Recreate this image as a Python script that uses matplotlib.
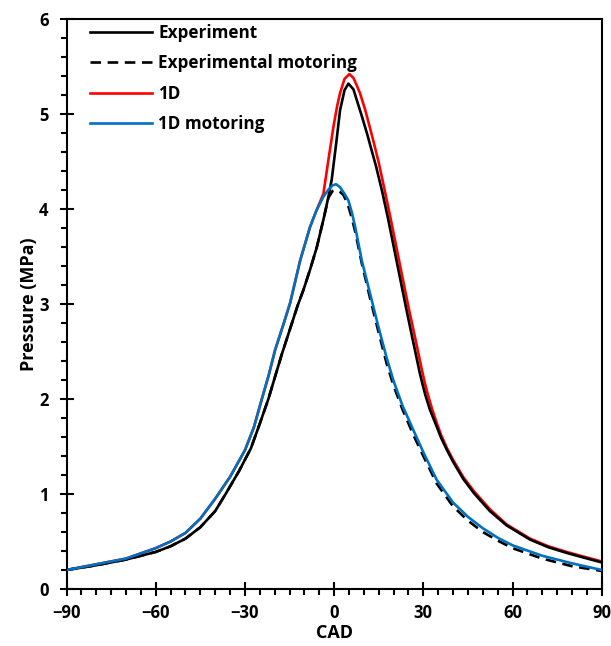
import matplotlib
matplotlib.use("Agg")
import matplotlib.pyplot as plt
from matplotlib.ticker import MultipleLocator

plt.rcParams['font.family'] = ['Open Sans', 'DejaVu Sans']
plt.rcParams['font.weight'] = 'bold'

# 1D motoring (blue)
x_1dm = [-90, -80, -70, -60, -55, -50, -45, -40, -35, -30, -27, -24.3, -22, -19.8, -17, -14.8, -11.4, -8.1, -6, -3.6, -2, -0.5, 0.7, 2, 3.5, 4.8, 6, 7.1, 9.3, 12.1, 14.9, 17.7, 20, 23, 26.7, 30, 34.5, 40, 45, 50, 55, 60, 70, 80, 90]
p_1dm = [0.20, 0.26, 0.32, 0.43, 0.50, 0.59, 0.74, 0.95, 1.18, 1.46, 1.70, 2.00, 2.25, 2.52, 2.79, 3.01, 3.46, 3.81, 3.98, 4.13, 4.20, 4.25, 4.26, 4.23, 4.16, 4.09, 3.96, 3.81, 3.46, 3.11, 2.76, 2.43, 2.19, 1.93, 1.67, 1.44, 1.15, 0.91, 0.76, 0.64, 0.54, 0.46, 0.35, 0.27, 0.20]

# 1D (red)
x_1d = [-90, -80, -70, -60, -55, -50, -45, -40, -35, -30, -27, -24.3, -22, -19.8, -17, -14.8, -11.4, -8.1, -6, -3.6, -1.9, -0.2, 1, 2, 3.5, 5.15, 6.5, 7.5, 8.7, 10.4, 12.1, 13.5, 15, 17, 19, 21, 23, 25, 27, 28.5, 29.5, 30.5, 31.5, 33, 34.5, 36, 38, 40, 43.4, 47, 52.4, 58, 65.9, 72, 78.2, 84, 90]
p_1d = [0.20, 0.26, 0.32, 0.43, 0.50, 0.59, 0.74, 0.95, 1.18, 1.46, 1.70, 2.00, 2.25, 2.52, 2.79, 3.01, 3.46, 3.81, 3.98, 4.16, 4.52, 4.87, 5.08, 5.22, 5.37, 5.42, 5.38, 5.31, 5.22, 5.05, 4.85, 4.68, 4.49, 4.20, 3.90, 3.59, 3.28, 2.97, 2.68, 2.46, 2.31, 2.17, 2.05, 1.89, 1.75, 1.62, 1.48, 1.36, 1.18, 1.03, 0.84, 0.68, 0.53, 0.45, 0.39, 0.34, 0.29]

# Experiment (black solid)
x_exp = [-90, -80, -70, -60, -55, -50, -47.5, -45, -40, -36.3, -32, -28, -25, -22.1, -20, -17.6, -15, -12.3, -10.3, -8, -5.8, -3.5, -1.9, -0.8, 0.7, 2, 3.5, 4.8, 6.5, 7.8, 9.5, 11.2, 12.6, 14.1, 16.2, 18.2, 20.2, 22.2, 24.2, 26.2, 27.7, 28.7, 29.7, 30.7, 32.2, 34.5, 36, 38, 40, 43.4, 47, 52.4, 58, 65.9, 72, 78.2, 84, 90]
p_exp = [0.20, 0.25, 0.31, 0.39, 0.45, 0.53, 0.59, 0.65, 0.82, 1.01, 1.24, 1.48, 1.74, 2.00, 2.22, 2.47, 2.72, 2.98, 3.15, 3.37, 3.60, 3.90, 4.13, 4.31, 4.69, 5.04, 5.25, 5.32, 5.26, 5.13, 4.96, 4.78, 4.62, 4.45, 4.18, 3.89, 3.58, 3.27, 2.96, 2.66, 2.44, 2.29, 2.16, 2.04, 1.89, 1.71, 1.59, 1.46, 1.34, 1.16, 1.01, 0.82, 0.67, 0.52, 0.44, 0.38, 0.33, 0.28]

# Experimental motoring (black dashed)
x_expm = [-90, -80, -70, -60, -55, -50, -47.5, -45, -40, -36.3, -32, -28, -25, -22.1, -20, -17.6, -15, -12.3, -10.3, -8, -5.8, -3.5, -1.9, -0.5, 0.7, 2, 3.1, 4.5, 6, 7.1, 9.3, 12.1, 14.9, 17.7, 20, 23, 26.7, 30, 34.5, 40, 45, 50, 55, 60, 70, 80, 90]
p_expm = [0.20, 0.25, 0.31, 0.39, 0.45, 0.53, 0.59, 0.65, 0.82, 1.01, 1.24, 1.48, 1.74, 2.00, 2.22, 2.47, 2.72, 2.98, 3.15, 3.37, 3.60, 3.90, 4.12, 4.19, 4.20, 4.18, 4.15, 4.06, 3.90, 3.76, 3.43, 3.06, 2.71, 2.37, 2.14, 1.89, 1.62, 1.40, 1.11, 0.87, 0.72, 0.60, 0.51, 0.43, 0.32, 0.24, 0.19]

labels = ['Experiment', 'Experimental motoring', '1D', '1D motoring']
xticks = [-90, -60, -30, 0, 30, 60, 90]
yticks = [0, 1, 2, 3, 4, 5, 6]

fig = plt.figure(figsize=(6.11, 6.46), dpi=100)
ax = fig.add_axes([66.5/611, 57/646, (601.7-66.5)/611, (589-19)/646])

lw = 1.9
ax.plot(x_exp, p_exp, color='black', lw=lw, label=labels[0], zorder=3)
ax.plot(x_expm, p_expm, color='black', lw=lw, dashes=(4, 2.5), label=labels[1], zorder=3)
ax.plot(x_1d, p_1d, color='#FF0000', lw=lw, label=labels[2], zorder=2)
ax.plot(x_1dm, p_1dm, color='#0070C0', lw=lw, label=labels[3], zorder=4)

ax.set_xlim(-90, 90)
ax.set_ylim(0, 6)
ax.set_xticks(xticks)
ax.set_yticks(yticks)
ax.xaxis.set_minor_locator(MultipleLocator(5))
ax.yaxis.set_minor_locator(MultipleLocator(0.2))
ax.tick_params(which='major', direction='inout', length=10, width=1.5, labelsize=12)
ax.tick_params(axis='x', which='major', pad=6)
ax.tick_params(axis='y', which='major', pad=8)
ax.tick_params(which='minor', direction='out', length=4.5, width=1.5)
for lab in ax.get_xticklabels() + ax.get_yticklabels():
    lab.set_fontweight('bold')
for s in ax.spines.values():
    s.set_linewidth(1.5)

ax.set_xlabel('CAD', fontsize=13, fontweight='bold', labelpad=1)
ax.set_ylabel('Pressure (MPa)', fontsize=13, fontweight='bold', labelpad=1)

leg = ax.legend(loc='upper left', bbox_to_anchor=(23.5/535.2, 1 - 5/570), frameon=False,
                borderaxespad=0, borderpad=0, handlelength=3.6, handletextpad=0.4,
                labelspacing=0.72, prop={'size': 12.3, 'weight': 'bold'})

fig.savefig('out.png', dpi=100)
